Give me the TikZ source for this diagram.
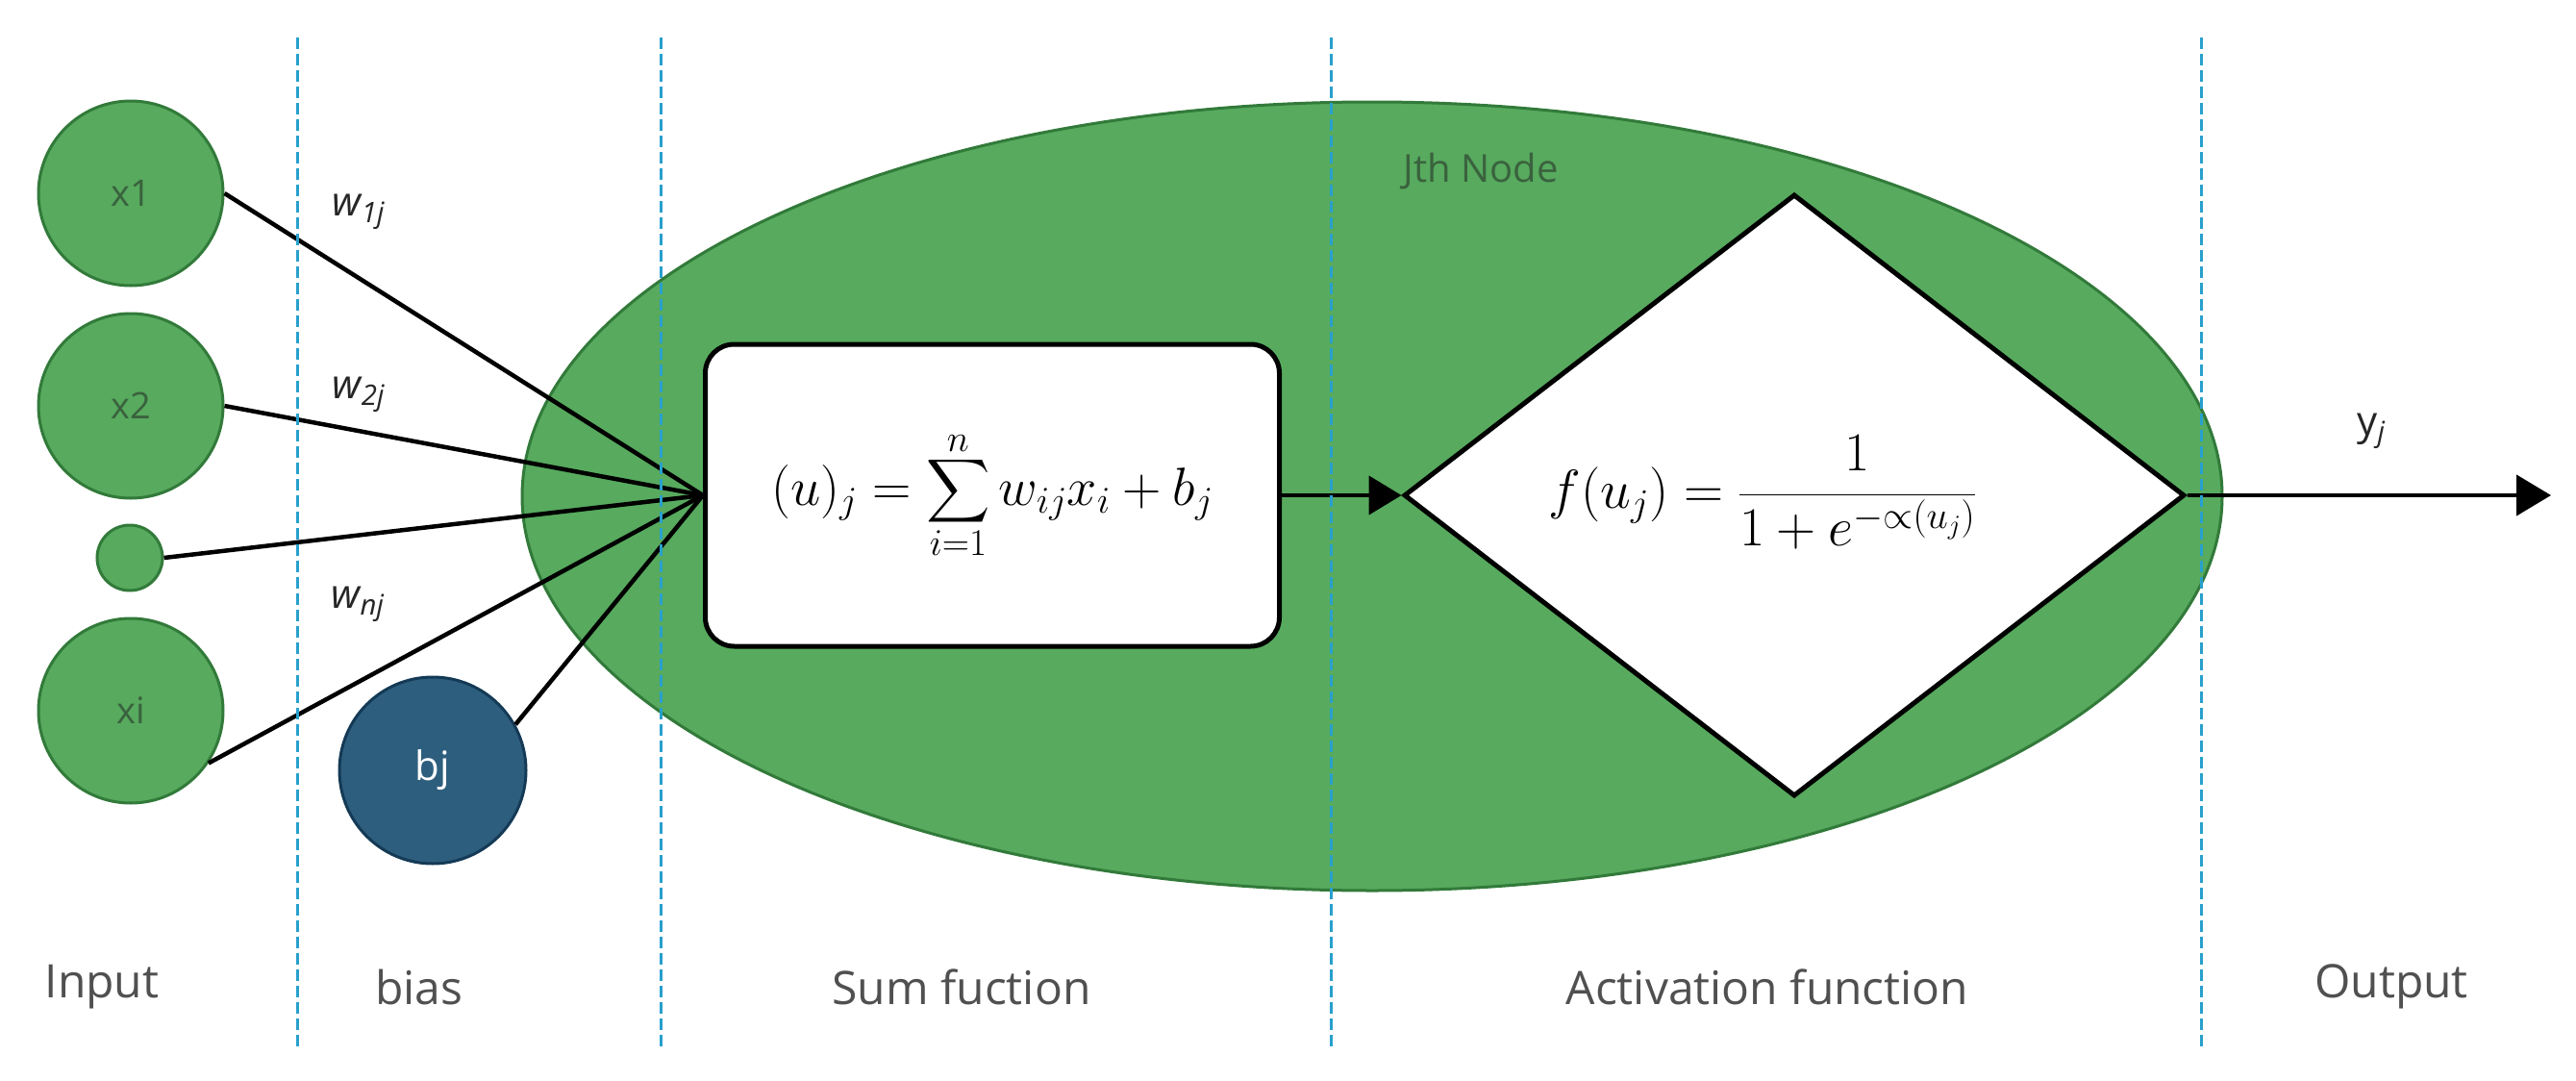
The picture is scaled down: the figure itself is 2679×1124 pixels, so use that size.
\RequirePackage{fix-cm}
\documentclass[tikz,border=0pt]{standalone}
\usepackage{exscale}
\usepackage{graphicx}
\usepackage[no-math]{fontspec}
\newfontfamily\osans{Open Sans}
\usetikzlibrary{shapes.geometric,arrows.meta}
\definecolor{nodegreen}{RGB}{87,170,94}
\definecolor{edgegreen}{RGB}{50,122,58}
\definecolor{biasblue}{RGB}{46,94,126}
\definecolor{biasedge}{RGB}{20,58,86}
\definecolor{guide}{RGB}{40,160,205}
\definecolor{labelgray}{RGB}{80,80,80}
\definecolor{nodetext}{RGB}{58,98,62}
\newcommand{\bigsumop}{\mathop{\vcenter{\hbox{\scalebox{1.85}{$\displaystyle\sum$}}}}\limits}
\begin{document}
\begin{tikzpicture}[x=1pt,y=-1pt,
  lbl/.style={font=\osans\fontsize{48}{56}\selectfont, text=labelgray},
  innode/.style={circle, draw=edgegreen, line width=3pt, fill=nodegreen, minimum size=192pt, inner sep=0pt, font=\osans\fontsize{38}{44}\selectfont, text=nodetext},
  guideline/.style={guide, line width=3pt, dash pattern=on 12pt off 5pt},
  wire/.style={line width=4.5pt, black},
  wlab/.style={font=\osans\itshape\fontsize{42}{48}\selectfont, text=black!85},
  mathbig/.style={font=\fontsize{56}{64}\selectfont}
]
\useasboundingbox[fill=white] (0,0) rectangle (2679,1124);

% big cell
\node[ellipse, draw=edgegreen, line width=3pt, fill=nodegreen, minimum width=1768pt, minimum height=820pt, inner sep=0pt] (cell) at (1427,516) {};
\node[font=\osans\fontsize{40}{46}\selectfont, text=nodetext] (jth) at (1540,178) {Jth Node};

% sum box
\node[draw=black, line width=5pt, fill=white, rounded corners=30pt, minimum width=597pt, minimum height=314pt, inner sep=0pt, mathbig] (sum) at (1032,515)
  {$\displaystyle (u)_j = \bigsumop_{i=1}^{n} w_{ij}x_i + b_j$};

% activation diamond
\node[diamond, draw=black, line width=5pt, fill=white, minimum width=812pt, minimum height=626pt, inner sep=0pt] (act) at (1866,515) {};
\node[font=\fontsize{57}{64}\selectfont] (fx) at (1833,512) {$\displaystyle f(u_j) = \frac{1}{1+e^{-\propto(u_j)}}$};

% inputs
\node[innode] (x1) at (136,201) {x1};
\node[innode] (x2) at (136,422) {x2};
\node[innode, minimum size=68pt] (xd) at (135,580) {};
\node[innode] (xi) at (136,739) {xi};
\node[circle, draw=biasedge, line width=3pt, fill=biasblue, minimum size=194pt, inner sep=0pt, font=\osans\fontsize{42}{48}\selectfont, text=white] (bj) at (450,801) {bj};

% wires
\draw[wire] (x1.east) -- (sum.west);
\draw[wire] (x2.east) -- (sum.west);
\draw[wire] (xd.east) -- (sum.west);
\draw[wire] (xi.-34) -- (sum.west);
\draw[wire] (bj.29) -- (sum.west);
\draw[wire, -{Triangle[length=34pt,width=40pt]}] (sum.east) -- (act.west);
\coordinate (out) at (2653,515);
\draw[wire, -{Triangle[length=36pt,width=42pt]}] (act.east) -- (out);

% weight labels
\node[wlab] (w1) at (373,220) {w\textsubscript{1j}};
\node[wlab] (w2) at (373,410) {w\textsubscript{2j}};
\node[wlab] (wn) at (372,628) {w\textsubscript{nj}};
\node[font=\osans\fontsize{42}{48}\selectfont, text=black!85] (yj) at (2466,448) {y\textsubscript{\itshape j}};

% guide lines
\foreach \gx in {309,687,1384,2289}
  \draw[guideline] (\gx,39) -- (\gx,1092);

% bottom labels
\node[lbl] (linput) at (106,1026) {Input};
\node[lbl] (lbias) at (436,1026) {bias};
\node[lbl] (lsum) at (1000,1026) {Sum fuction};
\node[lbl] (lact) at (1838,1026) {Activation function};
\node[lbl] (lout) at (2487,1026) {Output};
\end{tikzpicture}
\end{document}
